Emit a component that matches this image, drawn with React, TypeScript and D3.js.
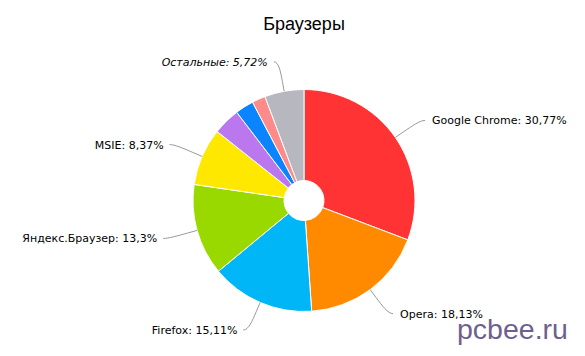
import React from "react";
import * as d3 from "d3";

const categories = ["Google Chrome", "Opera", "Firefox", "Яндекс.Браузер", "MSIE", "Safari", "Другие1", "Другие2", "Остальные"];
const values = [30.77, 18.13, 15.11, 13.3, 8.37, 3.95, 2.7, 1.95, 5.72];
const labelText = ["Google Chrome: 30,77%", "Opera: 18,13%", "Firefox: 15,11%", "Яндекс.Браузер: 13,3%", "MSIE: 8,37%", "", "", "", "Остальные: 5,72%"];
const colors = ["#ff3333", "#ff8a00", "#00b6f6", "#99d900", "#ffe800", "#bb77ee", "#0a84ff", "#ff8a8a", "#b7b7bf"];
const italic = [false, false, false, false, false, false, false, false, true];

const W = 585, H = 356;
const cx = 304, cy = 200.5, R = 111, r0 = 20;
const dist = 30;

export default function App() {
  const pie = d3.pie<number>().sort(null).value((d) => d)(values);
  const arc = d3.arc<d3.PieArcDatum<number>>().innerRadius(r0).outerRadius(R);
  return (
    <svg width={W} height={H} style={{ position: "absolute", left: 0, top: 0 }}>
      <rect width={W} height={H} fill="#fff" />
      <text x={304} y={30} textAnchor="middle" fontFamily="Liberation Sans, Arial, sans-serif" fontSize={18} fill="#000">Браузеры</text>
      <g transform={`translate(${cx},${cy})`}>
        {pie.map((p, i) => (
          <path key={i} d={arc(p) || ""} fill={colors[i]} stroke="#fff" strokeWidth={1} strokeLinejoin="round" />
        ))}
        {pie.map((p, i) => {
          if (!labelText[i]) return null;
          const a = (p.startAngle + p.endAngle) / 2;
          const s = Math.sin(a), c = Math.cos(a);
          const right = s >= 0;
          const lx = (R + dist) * s, ly = -(R + dist) * c;
          const bx = (R + 10) * s, by = -(R + 10) * c;
          const ex = R * s, ey = -R * c;
          const sx = lx + (right ? 5 : -5);
          const d = `M${sx},${ly} C${lx},${ly} ${2 * bx - ex},${2 * by - ey} ${bx},${by} L${ex},${ey}`;
          return (
            <g key={"l" + i}>
              <path d={d} fill="none" stroke="#999" strokeWidth={1} />
              <text x={lx + (right ? 12 : -11)} y={ly + 4} textAnchor={right ? "start" : "end"}
                fontFamily="DejaVu Sans, Verdana, sans-serif" fontSize={11} fill="#000"
                fontStyle={italic[i] ? "italic" : "normal"}>{labelText[i]}</text>
            </g>
          );
        })}
      </g>
      <text x={457} y={339} fontFamily="Liberation Sans, Arial, sans-serif" fontSize={28.5} fill="#6f5f8f">pcbee.ru</text>
    </svg>
  );
}
